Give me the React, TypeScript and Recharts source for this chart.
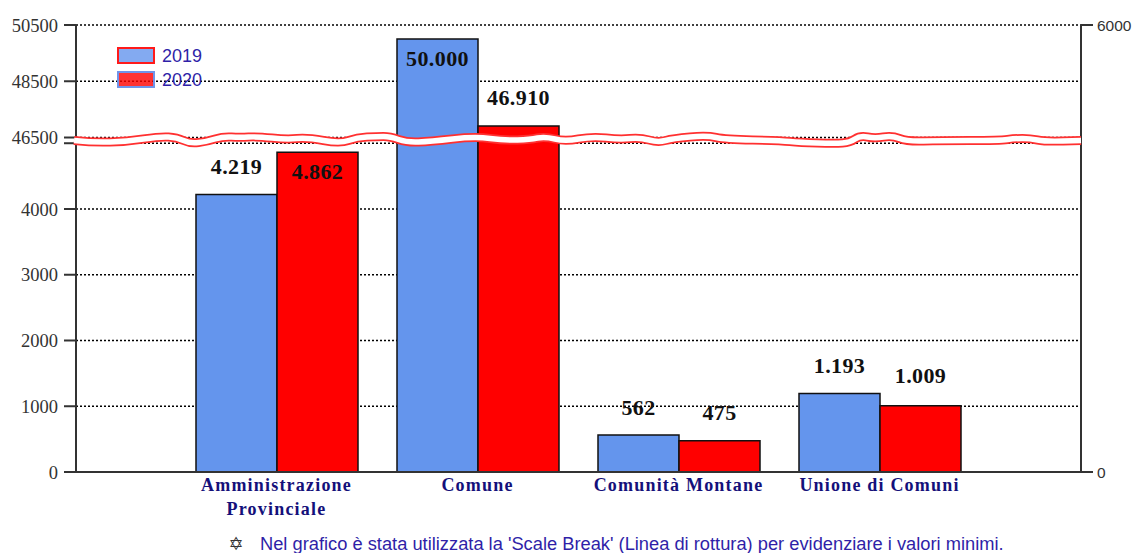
import { BarChart, Bar, XAxis, YAxis, CartesianGrid, LabelList, Legend } from 'recharts';

const categories = ['Amministrazione\nProvinciale', 'Comune', 'Comunità Montane', 'Unione di Comuni'];
const values2019 = [4219, 50000, 562, 1193];
const values2020 = [4862, 46910, 475, 1009];
const leftTicks = [0, 1000, 2000, 3000, 4000, 5000, 46500, 48500, 50500];
const rightTicks = [0, 6000];

// label shift from the top of each bar (positive = inside the bar)
const labelShift2019 = [-28, 19, -28, -28];
const labelShift2020 = [19, -28, -28, -30];

// the scale break: where it starts and stops, as a share of the axis height
const BREAK_LOW = 5000;
const BREAK_HIGH = 46500;
const BREAK_LOW_SHARE = 0.7355;
const BREAK_HIGH_SHARE = 0.7483;

// top edge of the wavy band, as [x, y] in the picture
const wave = [
  [74, 137], [93, 139], [127, 138], [160, 133], [177, 134], [190, 140], [207, 138], [223, 133], [240, 134],
  [257, 133], [287, 136], [307, 134], [340, 140], [357, 134], [377, 133], [390, 133], [407, 139], [430, 138],
  [475, 133], [505, 137], [530, 136], [545, 133], [565, 138], [592, 133], [620, 136], [640, 134], [658, 139],
  [673, 135], [707, 132], [725, 136], [780, 137], [800, 139], [835, 140], [850, 139], [860, 132], [875, 135],
  [892, 132], [907, 138], [940, 137], [1000, 137], [1015, 135], [1030, 135], [1045, 138], [1081, 137],
];

const data = categories.map((name, i) => ({ name, v2019: values2019[i], v2020: values2020[i] }));

const formatLabel = (v: number) => String(v).replace(/\B(?=(\d{3})+$)/g, '.');

function brokenScale(d: number[] = [0, 50500], r: number[] = [472, 25]) {
  const share = (v: number) => {
    if (v <= BREAK_LOW) return (v / BREAK_LOW) * BREAK_LOW_SHARE;
    if (v >= BREAK_HIGH) {
      return BREAK_HIGH_SHARE + ((v - BREAK_HIGH) / (d[1] - BREAK_HIGH)) * (1 - BREAK_HIGH_SHARE);
    }
    return BREAK_LOW_SHARE + ((v - BREAK_LOW) / (BREAK_HIGH - BREAK_LOW)) * (BREAK_HIGH_SHARE - BREAK_LOW_SHARE);
  };
  const s: any = (v: number) => r[0] + share(v) * (r[1] - r[0]);
  s.domain = (x?: number[]) => {
    if (!x) return d;
    d = x;
    return s;
  };
  s.range = (x?: number[]) => {
    if (!x) return r;
    r = x;
    return s;
  };
  s.ticks = () => leftTicks;
  s.copy = () => brokenScale([...d], [...r]);
  return s;
}

const wavePath = () => {
  let path = `M${wave[0][0]},${wave[0][1] + 3.5}`;
  for (let i = 1; i < wave.length - 1; i++) {
    const mx = (wave[i][0] + wave[i + 1][0]) / 2;
    const my = (wave[i][1] + wave[i + 1][1]) / 2 + 3.5;
    path += ` Q${wave[i][0]},${wave[i][1] + 3.5} ${mx},${my}`;
  }
  const last = wave[wave.length - 1];
  return path + ` L${last[0]},${last[1] + 3.5}`;
};

const CategoryTick = ({ x, y, payload }: any) => (
  <text
    x={x}
    y={y}
    textAnchor="middle"
    fontFamily="'Liberation Serif', serif"
    fontWeight="bold"
    fontSize={18}
    letterSpacing={1.2}
    fill="#14107a"
  >
    {String(payload.value)
      .split('\n')
      .map((line, i) => (
        <tspan key={line} x={x} dy={i === 0 ? 11 : 24}>
          {line}
        </tspan>
      ))}
  </text>
);

const makeLabel = (shifts: number[]) => (props: any) => {
  const { x, y, width, value, index } = props;
  return (
    <text
      x={x + width / 2}
      y={y + shifts[index]}
      textAnchor="middle"
      dominantBaseline="central"
      fontFamily="'Liberation Serif', serif"
      fontWeight="bold"
      fontSize={22}
      letterSpacing={0.4}
      fill="#111"
    >
      {formatLabel(value)}
    </text>
  );
};

const legendRows = [
  { name: '2019', fill: '#6495ed', edge: '#ff1a1a' },
  { name: '2020', fill: '#ff0000', edge: '#6f94ea' },
];

const LegendBox = () => (
  <div>
    {legendRows.map((row) => (
      <div key={row.name} style={{ display: 'flex', alignItems: 'center', height: 24 }}>
        <svg width={38} height={18}>
          <rect x={1} y={1} width={36} height={15} fill={row.fill} fillOpacity={0.8} stroke={row.edge} strokeWidth={2} />
        </svg>
        <span style={{ marginLeft: 7, fontFamily: "'Liberation Sans', sans-serif", fontSize: 18, color: '#2f1fa8' }}>
          {row.name}
        </span>
      </div>
    ))}
  </div>
);

export default function App() {
  return (
    <div style={{ position: 'absolute', left: 0, top: 0, width: 1138, height: 553, background: '#fff' }}>
      <BarChart
        width={1138}
        height={553}
        data={data}
        margin={{ top: 25, right: 0, bottom: 0, left: 0 }}
        barGap={0}
        barSize={81}
      >
        <CartesianGrid
          yAxisId="left"
          vertical={false}
          stroke="#000"
          strokeWidth={1.5}
          strokeDasharray="2 2"
          syncWithTicks
        />
        <XAxis
          dataKey="name"
          xAxisId={0}
          height={81}
          interval={0}
          padding={{ left: 100, right: 101 }}
          tickLine={false}
          axisLine={{ stroke: '#333', strokeWidth: 2 }}
          tick={<CategoryTick />}
        />
        <YAxis
          yAxisId="left"
          orientation="left"
          width={76}
          type="number"
          scale={brokenScale() as any}
          domain={[0, 50500]}
          ticks={leftTicks}
          interval={0}
          tickFormatter={(v: number) => (v === BREAK_LOW ? '' : String(v))}
          tickSize={12}
          tickMargin={6}
          axisLine={{ stroke: '#333', strokeWidth: 2 }}
          tickLine={{ stroke: '#333', strokeWidth: 2 }}
          tick={{ fontFamily: "'Liberation Serif', serif", fontSize: 18.5, fill: '#333' }}
        />
        <YAxis
          yAxisId="right"
          orientation="right"
          width={57}
          type="number"
          domain={[0, 6000]}
          allowDataOverflow
          ticks={rightTicks}
          interval={0}
          tickSize={12}
          tickMargin={4}
          axisLine={{ stroke: '#333', strokeWidth: 2 }}
          tickLine={{ stroke: '#333', strokeWidth: 2 }}
          tick={{ fontFamily: "'Liberation Sans', sans-serif", fontSize: 15.5, fill: '#333' }}
        />
        <Legend
          layout="vertical"
          align="center"
          verticalAlign="middle"
          wrapperStyle={{ left: 117, top: 44, width: 100 }}
          content={<LegendBox />}
        />
        <Bar yAxisId="left" dataKey="v2019" name="2019" fill="#6495ed" stroke="#111" strokeWidth={1.5} isAnimationActive={false}>
          <LabelList dataKey="v2019" content={makeLabel(labelShift2019)} />
        </Bar>
        <Bar yAxisId="left" dataKey="v2020" name="2020" fill="#ff0000" stroke="#111" strokeWidth={1.5} isAnimationActive={false}>
          <LabelList dataKey="v2020" content={makeLabel(labelShift2020)} />
        </Bar>
        <text x={236} y={550} textAnchor="middle" fontFamily="'DejaVu Sans', sans-serif" fontWeight="bold" fontSize={18} fill="#333">
          ✡
        </text>
        <text x={260} y={550} fontFamily="'Liberation Sans', sans-serif" fontSize={18.3} fill="#2f1fa8">
          Nel grafico è stata utilizzata la 'Scale Break' (Linea di rottura) per evidenziare i valori minimi.
        </text>
      </BarChart>
      <svg width={1138} height={553} style={{ position: 'absolute', left: 0, top: 0, pointerEvents: 'none' }}>
        <path d={wavePath()} fill="none" stroke="#ff3030" strokeWidth={9} strokeLinejoin="round" />
        <path d={wavePath()} fill="none" stroke="#fff" strokeWidth={5.5} strokeLinejoin="round" />
      </svg>
    </div>
  );
}
